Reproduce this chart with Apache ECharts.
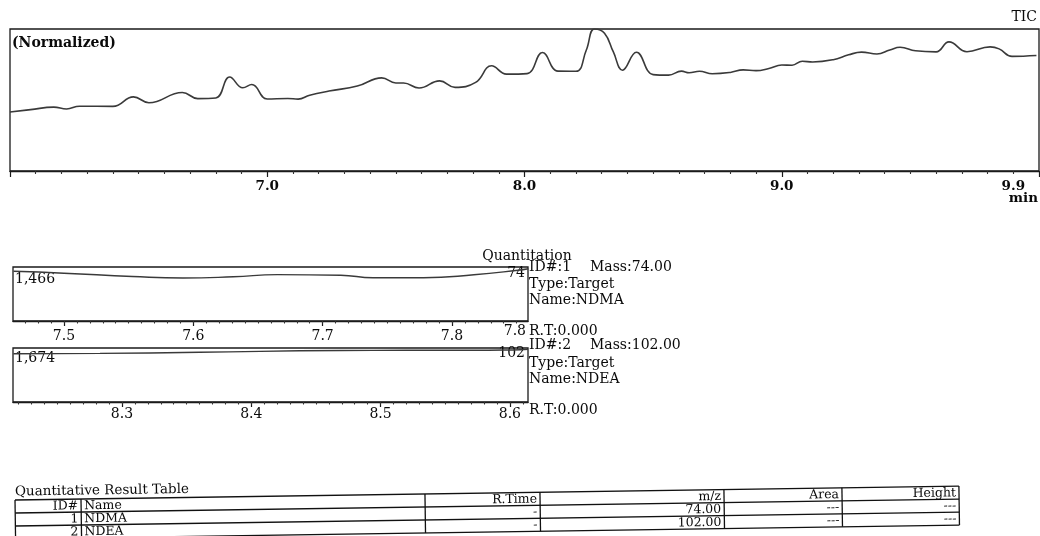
<!DOCTYPE html>
<html><head><meta charset="utf-8">
<script src="https://cdn.jsdelivr.net/npm/echarts@6/dist/echarts.min.js"></script>
<style>html,body{margin:0;padding:0;background:#fff}#c{width:1040px;height:536px}</style>
</head><body><div id="c"></div>
<script>
// ---- TIC chromatogram (normalized) ----
const ticTime  = [6.00,6.08,6.17,6.22,6.27,6.40,6.48,6.54,6.67,6.73,6.80,6.854,6.905,6.94,7.00,7.08,7.12,7.165,7.24,7.35,7.445,7.50,7.53,7.59,7.67,7.73,7.81,7.872,7.93,8.01,8.07,8.13,8.20,8.24,8.272,8.311,8.345,8.381,8.435,8.50,8.56,8.61,8.64,8.68,8.73,8.80,8.85,8.90,8.95,9.00,9.04,9.08,9.12,9.20,9.26,9.31,9.37,9.42,9.46,9.52,9.60,9.65,9.72,9.81,9.845,9.895,9.99];
const ticValue = [41.6,43.2,45.0,43.7,45.6,45.5,52.2,48.1,55.3,51.0,51.4,66.2,58.6,60.9,50.7,51.1,50.6,53.4,56.3,59.8,65.6,62.0,62.0,58.4,63.5,58.9,62.4,74.1,68.2,68.6,83.4,70.3,70.2,85.0,100,97.0,84.0,71.0,83.6,67.9,67.5,70.3,69.2,70.2,68.5,69.4,71.2,70.7,72.2,74.6,74.5,77.3,76.8,78.4,81.8,83.7,82.4,85.2,87.1,84.7,83.9,90.9,84.0,87.4,86.0,80.7,81.3];
const ticRange = [6.0, 10.0];
const ticTickLabels = [7.0, 8.0, 9.0, 9.9];

// ---- Quantitation windows ----
const q1Time  = [7.461,7.50,7.553,7.592,7.631,7.665,7.714,7.739,7.778,7.817,7.851,7.859];
const q1Value = [1349,1298,1208,1167,1201,1259,1243,1173,1175,1255,1378,1420];
const q1Range = [7.4606, 7.8588];
const q1TickLabels = [7.5, 7.6, 7.7, 7.8];
const q1MaxLabel = '1,466', q1Max = 1466;

const q2Time  = [8.216,8.283,8.360,8.469,8.520,8.571,8.608,8.614];
const q2Value = [1497,1507,1540,1597,1602,1602,1622,1632];
const q2Range = [8.2157, 8.614];
const q2TickLabels = [8.3, 8.4, 8.5, 8.6];
const q2MaxLabel = '1,674', q2Max = 1674;

const compoundIds   = ['1', '2'];
const compoundNames = ['NDMA', 'NDEA'];
const compoundMass  = ['74.00', '102.00'];
const compoundIon   = ['74', '102'];
const compoundRT    = ['0.000', '0.000'];

// ---- Result table ----
const tableTitle   = 'Quantitative Result Table';
const tableHeaders = ['ID#', 'Name', 'R.Time', 'm/z', 'Area', 'Height'];
const tableRows    = [
  ['1', 'NDMA', '-', '74.00', '---', '---'],
  ['2', 'NDEA', '-', '102.00', '---', '---']
];

const SERIF = '"DejaVu Serif", "Liberation Serif", serif';
const INK = '#0a0a0a';
const TRACE = '#3a3a3a';

function zip(a, b) { return a.map((v, i) => [v, b[i]]); }
function steps(lo, hi, step) {
  const out = [];
  for (let k = Math.ceil(lo / step - 1e-9); k * step <= hi + 1e-9; k++) out.push(+(k * step).toFixed(3));
  return out;
}
function trunc1(v) { return (Math.floor(v * 10 + 1e-6) / 10).toFixed(1); }

const chart = echarts.init(document.getElementById('c'), null, { renderer: 'canvas' });

const gridBorder = { show: true, borderColor: '#1a1a1a', borderWidth: 1.3, backgroundColor: 'transparent' };
const labelBase = { fontFamily: SERIF, fontSize: 14, color: INK };

function smallAxes(gi, range, ticks, margin) {
  return [
    { gridIndex: gi, type: 'value', position: 'bottom', min: range[0], max: range[1],
      axisLine: { show: true, lineStyle: { color: '#1a1a1a', width: 1.3 } },
      axisTick: { show: true, customValues: ticks, length: 5, lineStyle: { color: '#1a1a1a', width: 1.2 } },
      axisLabel: Object.assign({ customValues: ticks, formatter: v => trunc1(v), margin: margin }, labelBase),
      splitLine: { show: false } },
    { gridIndex: gi, type: 'value', position: 'bottom', min: range[0], max: range[1],
      axisLine: { show: false },
      axisTick: { show: true, customValues: steps(range[0], range[1], 0.01), length: 2.5, lineStyle: { color: '#333', width: 1.1 } },
      axisLabel: { show: false }, splitLine: { show: false } }
  ];
}

chart.setOption({
  animation: false,
  backgroundColor: '#fff',
  grid: [
    Object.assign({ left: 10, top: 29, width: 1029, height: 142 }, gridBorder),
    Object.assign({ left: 13, top: 267, width: 515, height: 54 }, gridBorder),
    Object.assign({ left: 13, top: 348, width: 515, height: 54 }, gridBorder)
  ],
  xAxis: [
    { gridIndex: 0, type: 'value', min: ticRange[0], max: ticRange[1], interval: 1,
      axisLine: { show: true, lineStyle: { color: '#1a1a1a', width: 1.3 } },
      axisTick: { show: true, length: 6, lineStyle: { color: '#1a1a1a', width: 1.2 } },
      minorTick: { show: true, splitNumber: 10, length: 3, lineStyle: { color: '#333', width: 1.1 } },
      axisLabel: Object.assign({ customValues: ticTickLabels, formatter: v => v.toFixed(1), margin: 8 }, labelBase, { fontWeight: 'bold', fontSize: 13.5 }),
      splitLine: { show: false }, minorSplitLine: { show: false } }
  ].concat(smallAxes(1, q1Range, q1TickLabels, 8), smallAxes(2, q2Range, q2TickLabels, 5)),
  yAxis: [
    { gridIndex: 0, type: 'value', min: 0, max: 100, show: false },
    { gridIndex: 1, type: 'value', min: 0, max: q1Max, show: false },
    { gridIndex: 2, type: 'value', min: 0, max: q2Max, show: false }
  ],
  series: [
    { type: 'line', xAxisIndex: 0, yAxisIndex: 0, data: zip(ticTime, ticValue), smooth: 0.45,
      showSymbol: false, symbol: 'none', lineStyle: { color: TRACE, width: 1.6 } },
    { type: 'line', xAxisIndex: 1, yAxisIndex: 1, data: zip(q1Time, q1Value), smooth: 0.5,
      showSymbol: false, symbol: 'none', lineStyle: { color: TRACE, width: 1.4 } },
    { type: 'line', xAxisIndex: 3, yAxisIndex: 2, data: zip(q2Time, q2Value), smooth: 0.5,
      showSymbol: false, symbol: 'none', lineStyle: { color: TRACE, width: 1.4 } }
  ]
});

function txt(x, y, s, opts) {
  return { type: 'text', x: x, y: y, silent: true,
    style: Object.assign({ text: s, fontFamily: SERIF, fontSize: 14, fill: INK, align: 'left', verticalAlign: 'middle' }, opts || {}) };
}

const g = [];
g.push(txt(1037, 17, 'TIC', { align: 'right' }));
g.push(txt(12, 43, '(Normalized)', { fontSize: 14, fontWeight: 'bold' }));
g.push(txt(1038, 198, 'min', { align: 'right', fontWeight: 'bold', fontSize: 13.5 }));

g.push(txt(527, 256, 'Quantitation', { align: 'center' }));

g.push(txt(15, 279, q1MaxLabel));
g.push(txt(525, 273, compoundIon[0], { align: 'right' }));
g.push(txt(15, 358, q2MaxLabel));
g.push(txt(525, 353, compoundIon[1], { align: 'right' }));

// end-of-window time label for window 1 (axis max, truncated)
const q1EndPx = chart.convertToPixel({ xAxisIndex: 1 }, q1Range[1]);
g.push(txt(q1EndPx - 2, 331, trunc1(q1Range[1]), { align: 'right' }));

const infoY = [[267, 284, 300, 331], [345, 363, 379, 410]];
for (let i = 0; i < 2; i++) {
  const [a, b, c, d] = infoY[i];
  g.push(txt(529, a, 'ID#:' + compoundIds[i]));
  g.push(txt(590, a, 'Mass:' + compoundMass[i]));
  g.push(txt(529, b, 'Type:Target'));
  g.push(txt(529, c, 'Name:' + compoundNames[i]));
  g.push(txt(529, d, 'R.T:' + compoundRT[i]));
}

const colX = [0, 66, 410, 525, 709, 827, 944];
const rowH = 13;
const nRows = tableRows.length + 1;
const tChildren = [];
const lineStyle = { stroke: '#111', lineWidth: 1.3 };
tChildren.push(txt(0, -8, tableTitle, { fontSize: 13.5 }));
for (let r = 0; r <= nRows; r++) {
  tChildren.push({ type: 'line', shape: { x1: 0, y1: r * rowH, x2: colX[colX.length - 1], y2: r * rowH }, style: lineStyle });
}
colX.forEach(x => tChildren.push({ type: 'line', shape: { x1: x, y1: 0, x2: x, y2: nRows * rowH }, style: lineStyle }));
const allRows = [tableHeaders].concat(tableRows);
allRows.forEach((row, r) => {
  const cy = r * rowH + rowH / 2 + 0.5;
  row.forEach((cell, ci) => {
    const leftAlign = ci === 1;
    const x = leftAlign ? colX[ci] + 3 : colX[ci + 1] - 3;
    tChildren.push(txt(x, cy, cell, { fontSize: 12.5, align: leftAlign ? 'left' : 'right' }));
  });
});
g.push({ type: 'group', x: 15, y: 500, rotation: 0.0148, children: tChildren });

chart.setOption({ graphic: g });
</script>
</body></html>
